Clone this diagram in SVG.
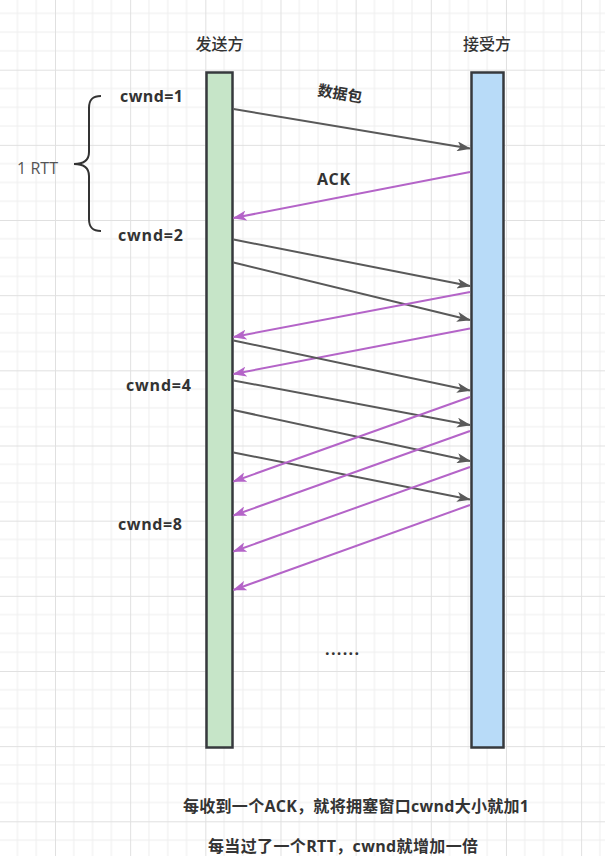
<svg xmlns="http://www.w3.org/2000/svg" width="605" height="856" viewBox="0 0 605 856">
<defs>
<pattern id="grid" x="-20.16" y="-5.46" width="75.16" height="75.16" patternUnits="userSpaceOnUse">
<path d="M18.79,0 V75.16 M37.58,0 V75.16 M56.37,0 V75.16 M0,18.79 H75.16 M0,37.58 H75.16 M0,56.37 H75.16" stroke="#eeeeee" stroke-width="1" fill="none"/>
<path d="M0.5,0 V75.16 M0,0.5 H75.16" stroke="#e0e0e0" stroke-width="1" fill="none"/>
</pattern>
<marker id="ad" viewBox="0 0 14 10" refX="13" refY="5" markerWidth="14" markerHeight="10" markerUnits="userSpaceOnUse" orient="auto">
<path d="M0,0 L14,5 L0,10 L3.5,5 Z" fill="#595959"/>
</marker>
<marker id="aa" viewBox="0 0 14 10" refX="13" refY="5" markerWidth="14" markerHeight="10" markerUnits="userSpaceOnUse" orient="auto">
<path d="M0,0 L14,5 L0,10 L3.5,5 Z" fill="#b464c8"/>
</marker>
</defs>
<style>
.t{font-family:"Open Sans","Noto Sans CJK SC",sans-serif;fill:#333333}
.b{font-weight:bold}
.data{stroke:#595959;stroke-width:2;fill:none;marker-end:url(#ad)}
.ack{stroke:#b464c8;stroke-width:2;fill:none;marker-end:url(#aa)}
.bar{stroke:#36393d;stroke-width:2.5}
</style>
<rect x="0" y="0" width="605" height="856" fill="#ffffff"/>
<rect x="0" y="0" width="605" height="856" fill="url(#grid)"/>

<g id="sender">
<rect class="bar" x="206.5" y="72.5" width="26" height="675" fill="#c6e5c8"/>
<text class="t" x="219.5" y="50" font-size="16" font-weight="500" text-anchor="middle">发送方</text>
</g>
<g id="receiver">
<rect class="bar" x="471.5" y="72.5" width="32" height="675" fill="#b8dbf8"/>
<text class="t" x="487" y="50" font-size="16" font-weight="500" text-anchor="middle">接受方</text>
</g>

<g id="connectors">
<line class="data" x1="233.5" y1="109" x2="470" y2="148.5"/>
<line class="ack" x1="470" y1="172" x2="233.5" y2="218"/>
<line class="data" x1="233.5" y1="239.5" x2="470" y2="286"/>
<line class="data" x1="233.5" y1="262.5" x2="470" y2="320"/>
<line class="ack" x1="470" y1="292" x2="233.5" y2="337"/>
<line class="ack" x1="470" y1="328.5" x2="233.5" y2="374"/>
<line class="data" x1="233.5" y1="340.5" x2="470" y2="390.5"/>
<line class="data" x1="233.5" y1="380.5" x2="470" y2="425"/>
<line class="data" x1="233.5" y1="410" x2="470" y2="461"/>
<line class="data" x1="233.5" y1="452.5" x2="470" y2="499.5"/>
<line class="ack" x1="470" y1="397" x2="233.5" y2="481.5"/>
<line class="ack" x1="470" y1="431" x2="233.5" y2="515.5"/>
<line class="ack" x1="470" y1="467" x2="233.5" y2="551.5"/>
<line class="ack" x1="470" y1="505" x2="233.5" y2="590"/>
</g>

<g id="brace">
<path d="M101,96 C92,96 89,100 89,108 L89,152 C89,160 84,164 74,164 C84,164 89,168 89,176 L89,219 C89,227 92,231 101,231" stroke="#333333" stroke-width="2" fill="none"/>
<text class="t" x="17" y="174" font-size="16" style="fill:#555555" textLength="41">1 RTT</text>
</g>

<g id="labels">
<text class="t b" x="120" y="102" font-size="16" textLength="63">cwnd=1</text>
<text class="t b" x="118" y="241" font-size="16" textLength="65">cwnd=2</text>
<text class="t b" x="126" y="391" font-size="16" textLength="65">cwnd=4</text>
<text class="t b" x="118" y="530" font-size="16" textLength="64">cwnd=8</text>
<text class="t b" x="340" y="99" font-size="15" text-anchor="middle" transform="rotate(9.5 340 94)">数据包</text>
<text class="t b" x="317" y="185" font-size="16" textLength="33">ACK</text>
<text class="t b" x="325" y="655" font-size="16" textLength="34">......</text>
<text class="t b" x="183" y="812" font-size="16" textLength="346">每收到一个ACK，就将拥塞窗口cwnd大小就加1</text>
<text class="t b" x="208" y="852" font-size="16" textLength="270">每当过了一个RTT，cwnd就增加一倍</text>
</g>
</svg>
